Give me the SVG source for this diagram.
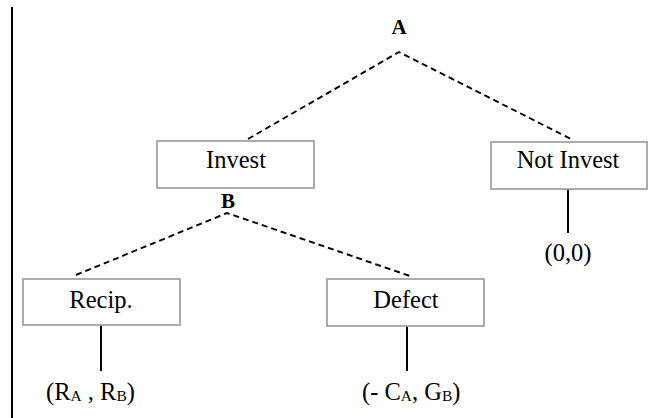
<svg xmlns="http://www.w3.org/2000/svg" width="651" height="418" viewBox="0 0 651 418">
<style>
text{font-family:'Liberation Serif','Times New Roman','DejaVu Serif',serif;fill:#000}
.box{fill:#fff;stroke:#a3a3a3;stroke-width:1.8}
.lbl{font-size:24.5px;text-anchor:middle}
.pl{font-size:24.5px}
.sub{font-size:15.5px}
.ply{font-weight:bold;font-size:21px;text-anchor:middle}
.dash{fill:none;stroke:#000;stroke-width:1.9;stroke-dasharray:6 4}
.solid{fill:none;stroke:#000;stroke-width:2}
</style>
<rect width="651" height="418" fill="#fff"/>
<line x1="12" y1="7" x2="12" y2="418" stroke="#000" stroke-width="2"/>
<g id="connectors">
<polyline class="dash" points="248,139 399,52 573,140"/>
<polyline class="dash" points="76,275 227,213 410,276"/>
<line class="solid" x1="568" y1="189" x2="568" y2="233"/>
<line class="solid" x1="101" y1="325" x2="101" y2="371"/>
<line class="solid" x1="407" y1="326" x2="407" y2="371"/>
</g>
<g id="playerA"><text class="ply" x="399" y="34">A</text></g>
<g id="invest">
<rect class="box" x="157" y="141" width="157" height="47"/>
<text class="lbl" x="236" y="168">Invest</text>
</g>
<g id="playerB"><text class="ply" x="228" y="208">B</text></g>
<g id="notinvest">
<rect class="box" x="491" y="142" width="156" height="47"/>
<text class="lbl" x="568" y="168">Not Invest</text>
</g>
<g id="payoff00"><text class="lbl" x="568" y="261">(0,0)</text></g>
<g id="recip">
<rect class="box" x="23" y="279" width="157" height="46"/>
<text class="lbl" x="101" y="308">Recip.</text>
</g>
<g id="defect">
<rect class="box" x="327" y="279" width="157" height="47"/>
<text class="lbl" x="406" y="308">Defect</text>
</g>
<g id="payoffRecip"><text class="pl" x="46" y="400">(R<tspan class="sub" dy="1">A</tspan><tspan dy="-1"> , R</tspan><tspan class="sub" dy="1">B</tspan><tspan dy="-1">)</tspan></text></g>
<g id="payoffDefect"><text class="pl" x="362" y="400">(- C<tspan class="sub" dy="1">A</tspan><tspan dy="-1">, G</tspan><tspan class="sub" dy="1">B</tspan><tspan dy="-1">)</tspan></text></g>
</svg>
